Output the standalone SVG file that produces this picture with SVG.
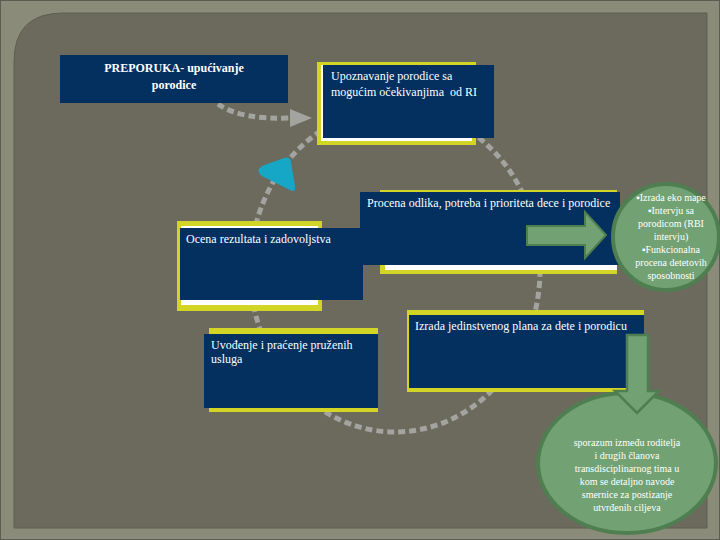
<svg xmlns="http://www.w3.org/2000/svg" width="720" height="540" viewBox="0 0 720 540">
<defs>
<style>
.navy{fill:#03305f}
.yel{fill:#d3d526}
.wht{fill:#ffffff}
text{font-family:'Liberation Serif','DejaVu Serif','Times New Roman',serif}
.t{fill:#ffffff;font-size:12px}
.ts{fill:#ffffff;font-size:10px;text-anchor:middle}
.green{fill:#72a273;stroke:#4f7f50;stroke-width:4}
.dash{fill:none;stroke:#a3a3a0;stroke-width:5;stroke-dasharray:7 4}
</style>
</defs>
<rect x="0" y="0" width="720" height="540" fill="#8b8b79"/>
<rect x="0.5" y="0.5" width="719" height="539" fill="none" stroke="#5c5c50" stroke-width="1"/>
<path d="M14,62 Q14,13 63,13 H707 V528 H14 Z" fill="#6b6a5d" stroke="#5f5e52" stroke-width="1"/>

<g id="connectors">
<ellipse class="dash" cx="395" cy="270" rx="145" ry="162"/>
<path class="dash" d="M218,104 Q240,120 292,118"/>
<polygon points="290,109 312,118 290,127" fill="#a3a3a0"/>
</g>

<g id="triangle">
<path d="M262,166 L284,158 Q290,156 291,162 L295,186 Q296,193 290,190 L262,176 Q255,171 262,166 Z" fill="#17a7c6"/>
</g>

<g id="preporuka">
<rect class="navy" x="60" y="55" width="228" height="48"/>
<text class="t" x="174" y="72" text-anchor="middle" font-weight="bold" font-size="14" font-family="'Liberation Serif','DejaVu Serif',serif">PREPORUKA- upućivanje</text>
<text class="t" x="174" y="89" text-anchor="middle" font-weight="bold" font-size="14" font-family="'Liberation Serif','DejaVu Serif',serif">porodice</text>
</g>

<g id="upoznavanje">
<rect class="yel" x="317" y="62" width="159" height="83"/>
<rect class="wht" x="321" y="65" width="151" height="76"/>
<rect class="navy" x="323" y="65" width="171" height="73"/>
<text class="t" x="331" y="80" font-family="'Liberation Serif','DejaVu Serif',serif">Upoznavanje porodice sa</text>
<text class="t" x="331" y="96" font-family="'Liberation Serif','DejaVu Serif',serif" xml:space="preserve">mogućim očekivanjima  od RI</text>
</g>

<g id="ocena">
<rect class="yel" x="177" y="221" width="145" height="90"/>
<rect class="wht" x="181" y="226" width="137" height="79"/>
<rect class="navy" x="180" y="228" width="183" height="72"/>
<text class="t" x="186" y="243" font-family="'Liberation Serif','DejaVu Serif',serif">Ocena rezultata i zadovoljstva</text>
</g>

<g id="procena">
<rect class="yel" x="380" y="190" width="237" height="84"/>
<rect class="wht" x="385" y="193" width="232" height="77"/>
<rect class="navy" x="360" y="192" width="260" height="73"/>
<text class="t" x="367" y="207" font-family="'Liberation Serif','DejaVu Serif',serif">Procena odlika, potreba i prioriteta dece i porodice</text>
<path d="M527,226 H585 V212 L606,235 L585,258 V245 H527 Z" fill="#72a273" stroke="#4f7f50" stroke-width="2"/>
</g>

<g id="procena-detalji">
<circle class="green" cx="666" cy="237" r="53"/>
<g font-family="'Liberation Serif','DejaVu Serif',serif">
<text class="ts" x="671" y="201">▪Izrada eko mape</text>
<text class="ts" x="671" y="214">▪Intervju sa</text>
<text class="ts" x="671" y="227">porodicom (RBI</text>
<text class="ts" x="671" y="240">intervju)</text>
<text class="ts" x="671" y="253">▪Funkcionalna</text>
<text class="ts" x="671" y="266">procena detetovih</text>
<text class="ts" x="671" y="279">sposobnosti</text>
</g>
</g>

<g id="uvodjenje">
<rect class="yel" x="209" y="328" width="169" height="84"/>
<rect class="navy" x="204" y="334" width="174" height="74"/>
<text class="t" x="211" y="349" font-family="'Liberation Serif','DejaVu Serif',serif">Uvođenje i praćenje pruženih</text>
<text class="t" x="211" y="363" font-family="'Liberation Serif','DejaVu Serif',serif">usluga</text>
</g>

<g id="izrada">
<rect class="yel" x="407" y="310" width="237" height="82"/>
<rect class="navy" x="409" y="315" width="235" height="73"/>
<text class="t" x="415" y="330" font-family="'Liberation Serif','DejaVu Serif',serif">Izrada jedinstvenog plana za dete i porodicu</text>
</g>

<g id="sporazum">
<ellipse class="green" cx="627" cy="463" rx="89" ry="70"/>
<path d="M627,335 H648 V391 H659 L637,413 L615,391 H627 Z" fill="#72a273" stroke="#4f7f50" stroke-width="2.5"/>
<g font-family="'Liberation Serif','DejaVu Serif',serif">
<text class="ts" x="627" y="446" font-size="10.5">sporazum između roditelja</text>
<text class="ts" x="627" y="459" font-size="10.5">i drugih članova</text>
<text class="ts" x="627" y="472" font-size="10.5">transdisciplinarnog tima u</text>
<text class="ts" x="627" y="485" font-size="10.5">kom se detaljno navode</text>
<text class="ts" x="627" y="498" font-size="10.5">smernice za postizanje</text>
<text class="ts" x="627" y="511" font-size="10.5">utvrđenih ciljeva</text>
</g>
</g>
</svg>
